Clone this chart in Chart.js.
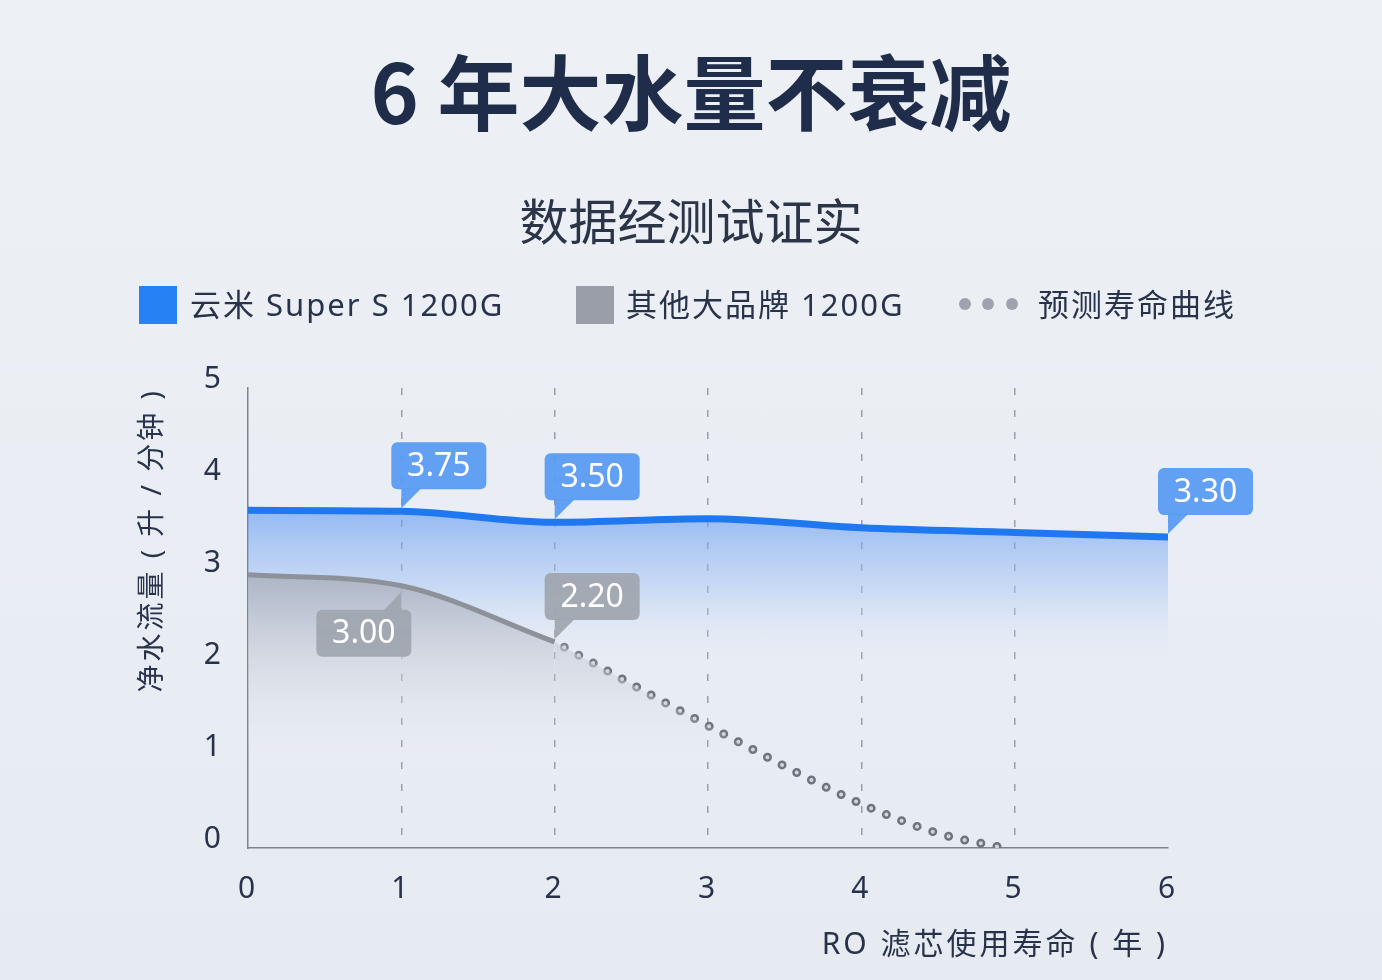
<!DOCTYPE html>
<html>
<head>
<meta charset="utf-8">
<script src="https://cdn.jsdelivr.net/npm/chart.js@4.4.1/dist/chart.umd.min.js"></script>
<style>
  html, body { margin: 0; padding: 0; }
  body {
    width: 1382px; height: 980px; position: relative; overflow: hidden;
    background: linear-gradient(#edf1f6, #e6ebf2);
    font-family: "Noto Sans", "Noto Sans CJK SC", sans-serif;
    color: #28324a;
  }
  canvas { position: absolute; left: 0; top: 0; }
  .title {
    position: absolute; left: 0; right: 0; top: 48px; text-align: center;
    font-family: "Noto Sans CJK SC", sans-serif;
    font-size: 82px; line-height: 82px; font-weight: 700; color: #1f2d4b;
  }
  .subtitle {
    position: absolute; left: 0; right: 0; top: 194px; text-align: center;
    font-family: "Noto Sans CJK SC", sans-serif;
    font-size: 49px; line-height: 49px; color: #2c3547;
  }
  .lg { position: absolute; top: 285px; height: 38px; line-height: 38px; font-size: 31px; letter-spacing: 2px; color: #28324a; white-space: nowrap; }
  .sq { position: absolute; top: 286px; width: 38px; height: 38px; }
  .dot { position: absolute; top: 298px; width: 12px; height: 12px; border-radius: 50%; background: #9ea3ad; }
</style>
</head>
<body>
<canvas id="chart" width="1382" height="980"></canvas>
<div class="title">6 年大水量不衰减</div>
<div class="subtitle">数据经测试证实</div>
<div class="sq" style="left:139px;background:#2681f5"></div>
<div class="lg" style="left:190px">云米 Super S 1200G</div>
<div class="sq" style="left:576px;background:#9a9ea8"></div>
<div class="lg" style="left:626px">其他大品牌 1200G</div>
<div class="dot" style="left:959px"></div>
<div class="dot" style="left:982px"></div>
<div class="dot" style="left:1006px"></div>
<div class="lg" style="left:1038px">预测寿命曲线</div>
<script>
// values
const years = [0, 1, 2, 3, 4, 5, 6];
const yunmiFlow = [3.67, 3.66, 3.54, 3.58, 3.48, 3.43, 3.38];
const otherYears = [0, 1, 2];
const otherFlow = [2.97, 2.85, 2.24];
const forecastYears = [2, 3, 4, 4.5, 4.93];
const forecastFlow = [2.24, 1.33, 0.48, 0.16, 0];

const yunmiCalloutYears = [1, 2, 6];
const yunmiCalloutText = ['3.75', '3.50', '3.30'];
const otherCalloutYears = [1, 2];
const otherCalloutText = ['3.00', '2.20'];

const xTitle = 'RO 滤芯使用寿命 ( 年 )';
const yTitle = '净水流量 ( 升 / 分钟 )';

const toPoints = (xs, ys) => xs.map((x, i) => ({ x: x, y: ys[i] }));

Chart.defaults.font.family = '"Noto Sans", "Noto Sans CJK SC", sans-serif';

function bubble(ctx, ax, ay, text, color, up) {
  const w = 95, h = 47;
  let left, top, tail;
  if (up) {
    left = ax + 10 - w;
    top = ay + 24;
    tail = [[ax, top + 1], [ax - 18, top + 1], [ax, ay + 6]];
  } else {
    left = ax - 10;
    top = ay - 22 - h;
    tail = [[ax, top + h - 1], [ax + 20, top + h - 1], [ax, ay - 3]];
  }
  ctx.save();
  ctx.fillStyle = color;
  ctx.beginPath();
  ctx.roundRect(left, top, w, h, 6);
  ctx.fill();
  ctx.beginPath();
  ctx.moveTo(tail[0][0], tail[0][1]);
  ctx.lineTo(tail[1][0], tail[1][1]);
  ctx.lineTo(tail[2][0], tail[2][1]);
  ctx.closePath();
  ctx.fill();
  ctx.fillStyle = '#ffffff';
  ctx.font = '32px "Noto Sans", sans-serif';
  ctx.textAlign = 'center';
  ctx.textBaseline = 'middle';
  ctx.fillText(text, left + w / 2, top + h / 2 + 1);
  ctx.restore();
}

// wider letter spacing for the axis texts, off again before the marks
const spacingPlugin = {
  id: 'spacing',
  beforeDraw(chart) { chart.ctx.letterSpacing = '3px'; },
  beforeDatasetsDraw(chart) { chart.ctx.letterSpacing = '0px'; },
};

const calloutPlugin = {
  id: 'callouts',
  afterDatasetsDraw(chart) {
    const ctx = chart.ctx;
    const blue = chart.getDatasetMeta(0).data;
    const gray = chart.getDatasetMeta(1).data;
    yunmiCalloutYears.forEach((yr, i) => {
      const p = blue[years.indexOf(yr)];
      bubble(ctx, p.x, p.y, yunmiCalloutText[i], 'rgba(90,155,242,0.95)', false);
    });
    otherCalloutYears.forEach((yr, i) => {
      const p = gray[otherYears.indexOf(yr)];
      bubble(ctx, p.x, p.y, otherCalloutText[i], 'rgba(160,166,176,0.95)', i === 0);
    });
  }
};

function blueFill(context) {
  const { ctx, chartArea, scales } = context.chart;
  if (!chartArea) return null;
  const g = ctx.createLinearGradient(0, scales.y.getPixelForValue(3.7), 0, scales.y.getPixelForValue(1.9));
  g.addColorStop(0, 'rgba(92,150,240,0.62)');
  g.addColorStop(0.5, 'rgba(165,196,245,0.45)');
  g.addColorStop(1, 'rgba(240,244,250,0)');
  return g;
}

function grayFill(context) {
  const { ctx, chartArea, scales } = context.chart;
  if (!chartArea) return null;
  const g = ctx.createLinearGradient(0, scales.y.getPixelForValue(3.0), 0, scales.y.getPixelForValue(1.0));
  g.addColorStop(0, 'rgba(168,174,188,0.85)');
  g.addColorStop(0.5, 'rgba(200,205,216,0.55)');
  g.addColorStop(1, 'rgba(232,236,243,0)');
  return g;
}

new Chart(document.getElementById('chart'), {
  type: 'line',
  data: {
    datasets: [
      {
        label: '云米 Super S 1200G',
        data: toPoints(years, yunmiFlow),
        borderColor: '#1f78f0',
        borderWidth: 7,
        backgroundColor: blueFill,
        fill: 'origin',
        pointRadius: 0,
        cubicInterpolationMode: 'monotone',
        order: 1,
      },
      {
        label: '其他大品牌 1200G',
        data: toPoints(otherYears, otherFlow),
        borderColor: '#8d9199',
        borderWidth: 5,
        backgroundColor: grayFill,
        fill: 'origin',
        pointRadius: 0,
        cubicInterpolationMode: 'monotone',
        order: 0,
      },
      {
        label: '预测寿命曲线',
        data: toPoints(forecastYears, forecastFlow),
        borderColor: '#6f747e',
        borderWidth: 9,
        borderDash: [0, 16.5],
        borderDashOffset: 5.5,
        borderCapStyle: 'round',
        fill: false,
        pointRadius: 0,
        cubicInterpolationMode: 'monotone',
        order: 3,
      },
      {
        label: '预测寿命曲线',
        data: toPoints(forecastYears, forecastFlow),
        borderColor: '#d3d7de',
        borderWidth: 4,
        borderDash: [0, 16.5],
        borderDashOffset: 5.5,
        borderCapStyle: 'round',
        backgroundColor: grayFill,
        fill: 'origin',
        pointRadius: 0,
        cubicInterpolationMode: 'monotone',
        order: 2,
      },
    ],
  },
  options: {
    responsive: false,
    animation: false,
    layout: { padding: { left: 0, top: 388, right: 214, bottom: 0 } },
    plugins: {
      legend: { display: false },
      tooltip: { enabled: false },
    },
    scales: {
      x: {
        type: 'linear',
        min: 0,
        max: 6,
        afterFit: (s) => { s.height = 132; },
        ticks: { stepSize: 1, padding: 23, color: '#28324a', font: { size: 30 } },
        grid: {
          drawTicks: false,
          lineWidth: 1.5,
          color: (c) => (c.tick && c.tick.value > 0 && c.tick.value < 6 ? '#9aa0aa' : 'transparent'),
        },
        border: { display: true, color: '#7e848e', width: 1.5, dash: [7, 15] },
        title: {
          display: true,
          text: xTitle,
          align: 'end',
          color: '#28324a',
          font: { size: 30 },
          padding: { top: 0, bottom: 17 },
        },
      },
      y: {
        min: 0,
        max: 5,
        afterFit: (s) => { s.width = 248; },
        ticks: { stepSize: 1, padding: 24, labelOffset: -9, color: '#28324a', font: { size: 30 } },
        grid: { display: false, drawTicks: false },
        border: { display: true, color: '#7e848e', width: 1.5 },
        title: {
          display: true,
          text: yTitle,
          align: 'end',
          color: '#28324a',
          font: { size: 28 },
          padding: { top: 136, bottom: 0 },
        },
      },
    },
  },
  plugins: [spacingPlugin, calloutPlugin],
});
</script>
</body>
</html>
